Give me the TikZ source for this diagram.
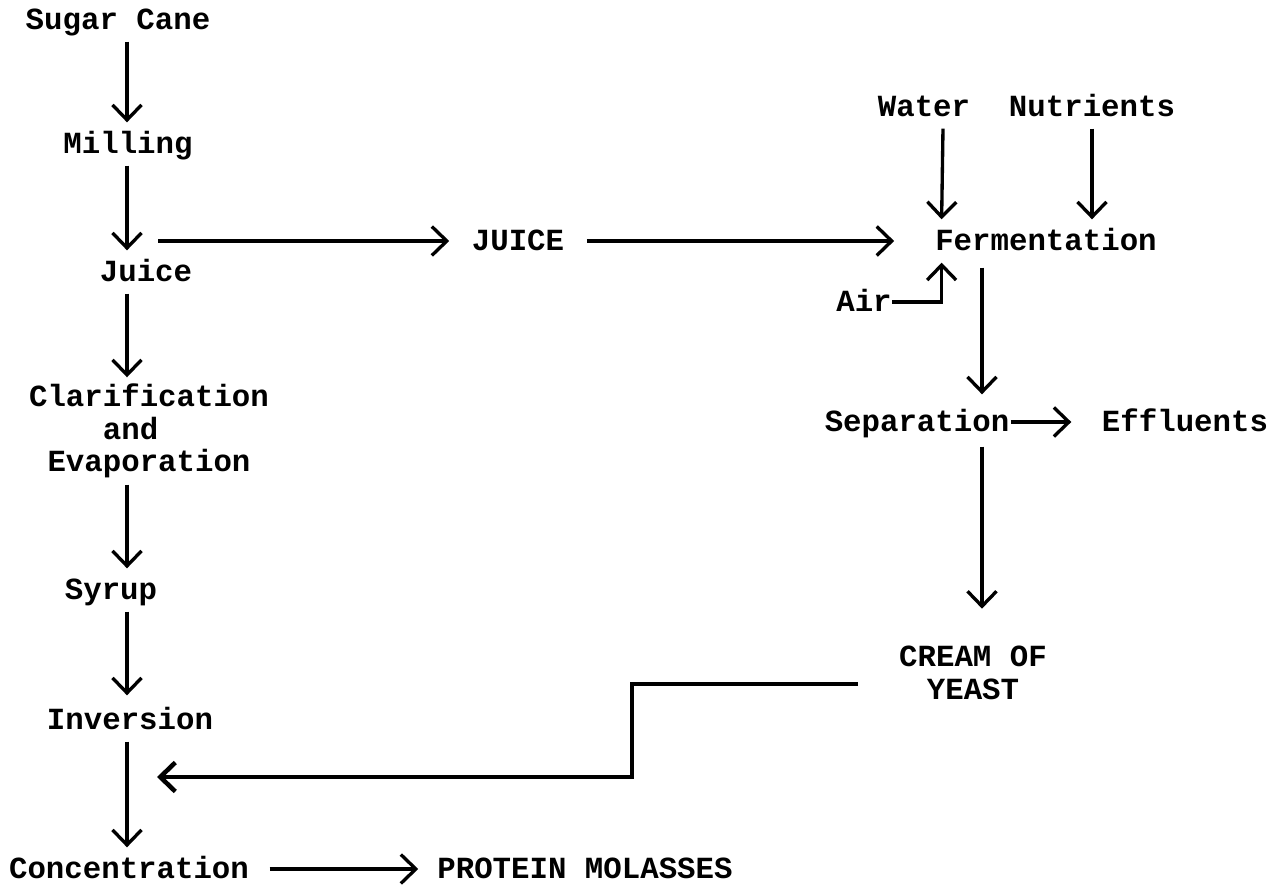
\documentclass[tikz,border=0pt]{standalone}
\usepackage{fontspec}
\setmonofont{Liberation Mono}
\usepackage{tikz}
\usetikzlibrary{arrows.meta}
\usetikzlibrary{calc}
\tikzstyle{lbl}=[font=\ttfamily\bfseries\fontsize{17.5}{18.5}\selectfont,inner sep=0.1cm,text height=0.5cm,text depth=0.1cm]
\tikzstyle{lblm}=[font=\ttfamily\bfseries\fontsize{17.5}{18.5}\selectfont,inner sep=0.1cm,align=center]
\tikzstyle{flow}=[-{Straight Barb[length=0.3cm,width=0.58cm]}]
\tikzset{every picture/.style={
    line width=1.9pt
  }
}

\begin{document}
\begin{tikzpicture}[x=0.02cm,y=-0.02cm]
      \useasboundingbox (0,0) rectangle (1286,888);
      % cane line
      \node[lbl] at (118,20) (sugar) {Sugar Cane};
      \node[lbl] at (128,144) (milling) {Milling};
      \node[lbl] at (146,272) (juice) {Juice};
      \node[lblm] at (149,431) (clarif) {Clarification\\and\phantom{xx}\\Evaporation};
      \node[lbl] at (111,590) (syrup) {Syrup};
      \node[lbl] at (130,720) (inversion) {Inversion};
      \node[lbl] at (129,869) (conc) {Concentration};
      \node[lbl] at (585,869) (protein) {PROTEIN MOLASSES};
      % yeast line
      \node[lbl] at (518,241) (juicetwo) {JUICE};
      \node[lbl] at (1046,241) (ferm) {Fermentation};
      \node[lbl] at (924,107) (water) {Water};
      \node[lbl] at (1092,107) (nutr) {Nutrients};
      \node[lbl] at (864,302) (air) {Air};
      \node[lbl] at (917,422) (sep) {Separation};
      \node[lbl] at (1185,422) (effl) {Effluents};
      \node[lblm] at (973,673) (cream) {CREAM OF\\YEAST};
      \coordinate (lcol) at (127,0);
      \coordinate (rcol) at (982,0);
      \coordinate (tap) at (158,241);
      \coordinate (ret) at (858,684);
      \coordinate (back) at (157,777);
      \draw[flow] (sugar.south -| lcol)--(milling.north -| lcol);
      \draw[flow] (milling.south -| lcol)--(juice.north -| lcol);
      \draw[flow] (juice.south -| lcol)--(clarif.north -| lcol);
      \draw[flow] (clarif.south -| lcol)--(syrup.north -| lcol);
      \draw[flow,shorten >=0.06cm] (syrup.south -| lcol)--(inversion.north -| lcol);
      \draw[flow] (inversion.south -| lcol)--(conc.north -| lcol);
      \draw[flow,shorten <=0.28cm,shorten >=0.25cm] (conc.east)--(protein.west);
      \draw[flow,shorten >=0.32cm] (tap)--(juicetwo.west);
      \draw[flow,shorten <=0.32cm,shorten >=0.69cm] (juicetwo.east)--(ferm.west);
      \draw[flow] ($(water.south)+(19,0)$)--($(ferm.north west)+(13,0)$);
      \draw[flow] (nutr.south)--(nutr.south |- ferm.north);
      \draw[flow,shorten <=-0.12cm] (air.east) -| ($(ferm.south west)+(13,0)$);
      \draw[flow,shorten <=0.1cm,shorten >=0.12cm] (ferm.south -| rcol)--(sep.north -| rcol);
      \draw[flow,shorten <=-0.1cm,shorten >=0.48cm] (sep.east)--(effl.west);
      \draw[flow,shorten <=0.06cm,shorten >=0.62cm] (sep.south -| rcol)--(cream.north -| rcol);
      \draw[flow,line width=2.6pt] (ret)--++(-226,0) |- (back);
\end{tikzpicture}
\end{document}
